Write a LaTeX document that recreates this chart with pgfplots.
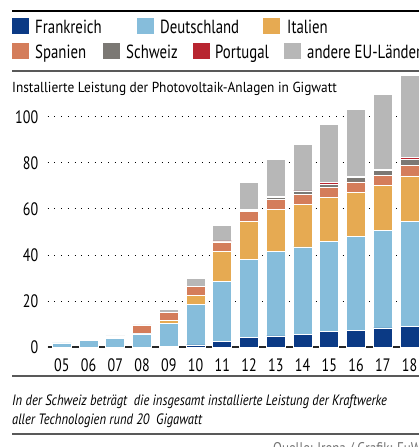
\documentclass[border=0pt]{standalone}
\usepackage{pgfplots}
\pgfplotsset{compat=1.18}
\usepackage{pgfplotstable}
\usepackage{fontspec}
\setmainfont{PT Sans}[FakeStretch=0.78]
\newfontfamily\notefont{PT Sans}[FakeStretch=0.84]
\newfontfamily\subfont{PT Sans}[FakeStretch=0.92]
\definecolor{cFR}{HTML}{0B3A85}
\definecolor{cDE}{HTML}{86BDDB}
\definecolor{cIT}{HTML}{E6AA52}
\definecolor{cES}{HTML}{D47D5B}
\definecolor{cCH}{HTML}{7B7874}
\definecolor{cPT}{HTML}{B82530}
\definecolor{cEU}{HTML}{B7B7B7}
\pgfplotstableread{
yr F D I S CH P O
5 0 1.9 0 0.1 0 0 0.1
6 0 2.8 0 0.1 0 0 0.1
7 0 4.0 0.1 0.7 0 0 0.1
8 0.1 5.7 0.3 3.4 0 0 0.2
9 0.3 10.2 1.2 3.3 0.1 0.1 1.3
10 1.0 17.7 3.8 3.7 0.1 0.1 3.5
11 2.7 26.0 12.7 4.3 0.2 0.2 6.8
12 4.2 33.9 16.6 4.4 0.4 0.2 11.6
13 4.9 36.8 18.2 4.3 0.8 0.3 16.1
14 5.6 37.9 18.4 4.5 1.0 0.4 20.2
15 6.8 39.2 18.8 4.6 1.4 0.5 25.2
16 7.4 40.7 19.0 4.6 1.9 0.5 28.9
17 8.4 42.2 19.5 4.6 1.8 0.7 32.3
18 9.2 45.2 19.9 4.6 2.5 0.8 35.8
}\pv
\begin{document}
\begin{tikzpicture}
\useasboundingbox (0pt,0pt) rectangle (419pt,447pt);
\clip (0pt,0pt) rectangle (419pt,447pt);
% rules
\draw[black, line width=2.5pt] (12pt,436pt) -- (419pt,436pt);
\draw[black!65, line width=1.2pt] (12pt,376pt) -- (419pt,376pt);
\draw[black!65, line width=1.2pt] (12pt,71pt) -- (419pt,71pt);
\draw[black!65, line width=1.2pt] (12pt,13pt) -- (419pt,13pt);
% legend
\begin{scope}[every node/.style={anchor=base west, inner sep=0pt, font=\fontsize{19}{21}\selectfont}]
\fill[cFR] (12pt,413pt) rectangle (28.5pt,429pt);  \node at (35pt,413pt) {Frankreich};
\fill[cDE] (137pt,413pt) rectangle (153.5pt,429pt); \node at (160pt,413pt) {Deutschland};
\fill[cIT] (263pt,413pt) rectangle (279.5pt,429pt); \node at (287pt,413pt) {Italien};
\fill[cES] (12pt,388pt) rectangle (28.5pt,404pt);  \node at (35pt,388pt) {Spanien};
\fill[cCH] (103pt,388pt) rectangle (119.5pt,404pt); \node at (126pt,388pt) {Schweiz};
\fill[cPT] (193pt,388pt) rectangle (209.5pt,404pt); \node at (215pt,388pt) {Portugal};
\fill[cEU] (284pt,388pt) rectangle (300.5pt,404pt); \node at (307pt,388pt) {andere EU-Länder};
\end{scope}
\node[anchor=base west, inner sep=0pt, font=\fontsize{14.5}{17}\subfont] at (12pt,354.5pt) {Installierte Leistung der Photovoltaik-Anlagen in Gigwatt};
\node[anchor=base west, inner sep=0pt, font=\fontsize{15}{17}\notefont\itshape] at (12pt,41pt) {In der Schweiz beträgt\ \ die insgesamt installierte Leistung der Kraftwerke};
\node[anchor=base west, inner sep=0pt, font=\fontsize{15}{17}\notefont\itshape] at (12pt,22pt) {aller Technologien rund 20\ \ Gigawatt};
\node[anchor=north west, inner sep=0pt, font=\fontsize{15.5}{18}\notefont, text=black!55] at (273pt,5pt) {Quelle: Irena / Grafik: FuW};
\begin{axis}[
  at={(47.7pt,99.7pt)}, anchor=south west,
  scale only axis, width=371.3pt, height=274.4pt,
  xmin=4.47, xmax=18.35, ymin=0, ymax=119,
  ybar stacked, bar width=0.71,
  axis line style={draw=none},
  xtick={5,...,18},
  xticklabels={05,06,07,08,09,10,11,12,13,14,15,16,17,18},
  ytick={0,20,40,60,80,100},
  yticklabels={0,20,40,60,80,100},
  tick style={draw=none},
  ymajorgrids,
  major grid style={black, line width=0.9pt, dash pattern=on 0.9pt off 5.8pt},
  ticklabel style={font=\fontsize{18}{20}\selectfont},
  yticklabel style={xshift=-6pt},
  xticklabel style={yshift=-8pt},
  every axis plot/.append style={draw=white, line width=0.8pt},
  clip=false,
]
\addplot[fill=cFR] table[x=yr,y=F]{\pv};
\addplot[fill=cDE] table[x=yr,y=D]{\pv};
\addplot[fill=cIT] table[x=yr,y=I]{\pv};
\addplot[fill=cES] table[x=yr,y=S]{\pv};
\addplot[fill=cCH] table[x=yr,y=CH]{\pv};
\addplot[fill=cPT] table[x=yr,y=P]{\pv};
\addplot[fill=cEU] table[x=yr,y=O]{\pv};
\draw[black!85, line width=1.6pt] (rel axis cs:0,0) -- (rel axis cs:1,0);
\end{axis}
\end{tikzpicture}
\end{document}
